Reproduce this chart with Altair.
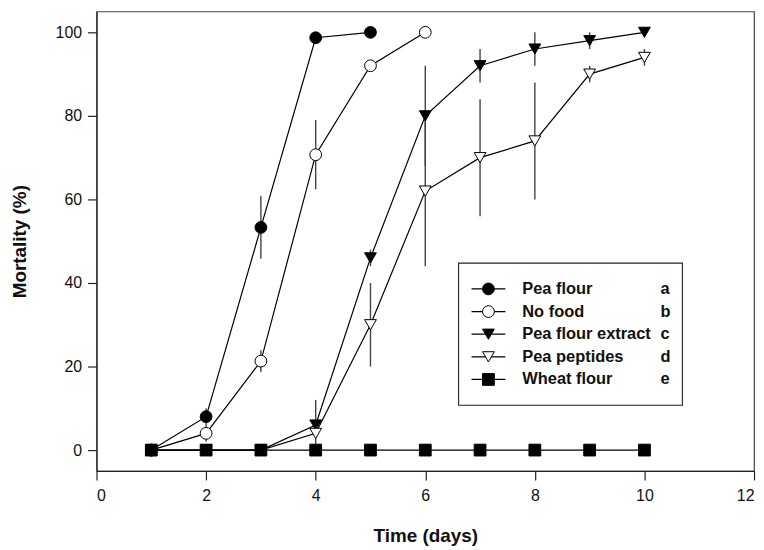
import altair as alt
import pandas as pd

series = ["Pea flour", "No food", "Pea flour extract", "Pea peptides", "Wheat flour"]
letters = ["a", "b", "c", "d", "e"]

days_pea_flour = [1, 2, 3, 4, 5]
pea_flour = [0, 8, 53.3, 98.7, 100]
pea_flour_err = [0, 2, 7.5, 0, 0]

days_no_food = [1, 2, 3, 4, 5, 6]
no_food = [0, 4, 21.3, 70.7, 92, 100]
no_food_err = [0, 2, 2.6, 8.3, 0, 0]

days_long = [1, 2, 3, 4, 5, 6, 7, 8, 9, 10]
extract = [0, 0, 0, 6, 46, 80, 92, 96, 98, 100]
extract_err = [0, 0, 0, 6, 2, 12, 4, 4, 2, 0]

peptides = [0, 0, 0, 4, 30, 62, 70, 74, 90, 94]
peptides_err = [0, 0, 0, 0, 10, 18, 14, 14, 2, 2]

wheat = [0, 0, 0, 0, 0, 0, 0, 0, 0, 0]
wheat_err = [0, 0, 0, 0, 0, 0, 0, 0, 0, 0]

shapes = ["circle", "circle", "triangle-down", "triangle-down", "square"]
fills = ["black", "white", "black", "white", "black"]
sizes = [140, 140, 125, 125, 100]

rows = []
for name, d, v, e in [
    (series[0], days_pea_flour, pea_flour, pea_flour_err),
    (series[1], days_no_food, no_food, no_food_err),
    (series[2], days_long, extract, extract_err),
    (series[3], days_long, peptides, peptides_err),
    (series[4], days_long, wheat, wheat_err),
]:
    for di, vi, ei in zip(d, v, e):
        rows.append({"series": name, "day": di, "mortality": vi,
                     "lo": vi - ei, "hi": min(vi + ei, 100) if ei else vi, "err": ei})
df = pd.DataFrame(rows)
df_err = df[df["err"] > 0]

FONT = "Liberation Sans"

xs = alt.Scale(domain=[0, 12], nice=False, zero=False)
ys = alt.Scale(domain=[-5, 105], nice=False, zero=False)
shape_scale = alt.Scale(domain=series, range=shapes)
fill_scale = alt.Scale(domain=series, range=fills)
size_scale = alt.Scale(domain=series, range=sizes)

x_enc = alt.X("day:Q", scale=xs, title="Time (days)",
              axis=alt.Axis(values=[0, 2, 4, 6, 8, 10, 12], grid=False, format="d"))
y_enc = alt.Y("mortality:Q", scale=ys, title="Mortality (%)",
              axis=alt.Axis(values=[0, 20, 40, 60, 80, 100], grid=False, format="d"))

base = alt.Chart(df)

lines = base.mark_line(color="black", strokeWidth=1.2).encode(
    x=x_enc, y=y_enc, detail="series:N"
)

errs = alt.Chart(df_err).mark_rule(color="#444444", strokeWidth=1.4).encode(
    x=alt.X("day:Q", scale=xs),
    y=alt.Y("lo:Q", scale=ys),
    y2="hi:Q",
)

points = base.mark_point(filled=True, stroke="black", strokeWidth=1, opacity=1).encode(
    x=alt.X("day:Q", scale=xs),
    y=alt.Y("mortality:Q", scale=ys),
    shape=alt.Shape("series:N", scale=shape_scale, legend=None),
    fill=alt.Fill("series:N", scale=fill_scale, legend=None),
    size=alt.Size("series:N", scale=size_scale, legend=None),
)

data_layer = alt.layer(lines, errs, points)

# Legend built from the series list
leg_df = pd.DataFrame({"series": series, "letter": letters, "row": list(range(len(series)))})
leg_y = alt.Y("row:Q", scale=alt.Scale(domain=[0, 4], range=[279, 370]), axis=None)

leg_box = alt.Chart(pd.DataFrame({"k": [0]})).mark_rect(
    fill="white", stroke="#222222", strokeWidth=1.1
).encode(x=alt.value(364), x2=alt.value(589), y=alt.value(253), y2=alt.value(396))

leg_rule = alt.Chart(leg_df).mark_rule(color="black", strokeWidth=1.2).encode(
    x=alt.value(377), x2=alt.value(411), y=leg_y
)
leg_pts = alt.Chart(leg_df).mark_point(filled=True, stroke="black", strokeWidth=1, opacity=1).encode(
    x=alt.value(394), y=leg_y,
    shape=alt.Shape("series:N", scale=shape_scale, legend=None),
    fill=alt.Fill("series:N", scale=fill_scale, legend=None),
    size=alt.Size("series:N", scale=size_scale, legend=None),
)
leg_txt = alt.Chart(leg_df).mark_text(
    align="left", baseline="middle", font=FONT, fontSize=16.5, fontWeight="bold", color="#111111"
).encode(x=alt.value(428), y=leg_y, text="series:N")
leg_let = alt.Chart(leg_df).mark_text(
    align="left", baseline="middle", font=FONT, fontSize=16.5, fontWeight="bold", color="#111111"
).encode(x=alt.value(567), y=leg_y, text="letter:N")

legend_layer = alt.layer(leg_box, leg_rule, leg_pts, leg_txt, leg_let)

chart = alt.layer(data_layer, legend_layer).resolve_scale(y="independent").properties(
    width=661, height=462,
    autosize=alt.AutoSizeParams(type="none"),
    padding={"left": 89, "top": 2, "right": 2, "bottom": 76},
).configure_view(
    stroke="#444444", strokeWidth=1.2
).configure_axis(
    labelFont=FONT, labelFontSize=16, labelColor="#111111",
    titleFont=FONT, titleFontSize=19, titleFontWeight="bold", titleColor="#111111",
    domainColor="#222222", domainWidth=1.2, tickColor="#222222", tickWidth=1.2,
    tickSize=9, labelPadding=6,
).configure_axisY(
    titlePadding=26,
).configure_axisX(
    titlePadding=23, labelPadding=8,
)

chart.save("out.html", embed_options={"renderer": "svg", "actions": False})
